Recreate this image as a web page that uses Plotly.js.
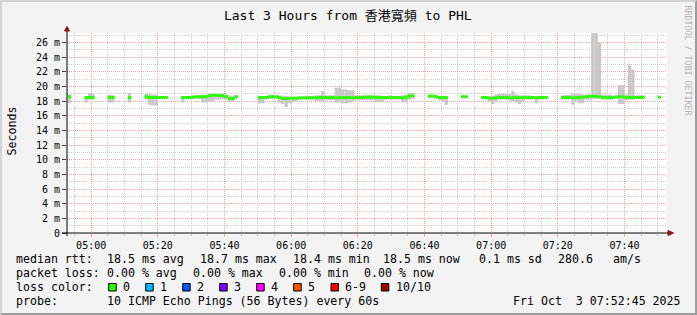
<!DOCTYPE html>
<html><head><meta charset="utf-8">
<script src="https://cdn.plot.ly/plotly-3.0.1.min.js"></script>
<style>
body{margin:0;background:#f3f3f3}
#wrap{position:relative;width:697px;height:315px;overflow:hidden}
#chart{width:697px;height:315px}
#frame{position:absolute;left:0;top:0;width:697px;height:315px;box-sizing:border-box;border-top:2px solid #d4d4d4;border-left:2px solid #d4d4d4;border-right:2px solid #9c9c9c;border-bottom:2px solid #9c9c9c;pointer-events:none}
</style></head>
<body><div id="wrap"><div id="chart"></div><div id="frame"></div></div>
<script>
// one sample per minute, first sample 2025-10-03 04:53 (null = no data)
const firstSample = '2025-10-03 04:53:00';
const median = [
 18.6, null,null,null,null,
 18.5,18.5,18.5, null,null,null,null,
 18.5,18.5, null,null,null,null,
 18.5, null,null,null,null,
 18.6,18.5,18.5,18.5,18.5,18.5,18.5, null,null,null,null,
 18.5,18.5,18.5,18.55,18.6,18.6,18.6,18.6,18.75,18.8,18.8,18.75,18.75,18.6,18.35,18.35,18.6,
 null,null,null,null,null,null,
 18.5,18.5,18.5,18.6,18.6,18.6,18.5,18.35,18.35,18.4,
 18.4,18.4,18.45,18.45,18.45,18.45,18.45,18.45,18.5,18.5,
 18.5,18.5,18.5,18.45,18.5,18.5,18.5,18.5,18.45,18.5,
 18.5,18.5,18.55,18.55,18.55,18.5,18.5,18.5,18.5,18.55,
 18.5,18.5,18.5,18.45,18.55,18.7,18.7,
 null,null,null,null,
 18.7,18.7,18.6,18.5,18.5,18.5,
 null,null,null,null,
 18.6,18.6,
 null,null,null,null,
 18.5,18.5,18.4,18.4,18.45,18.5,18.5,18.5,18.45,18.45,18.5,18.5,18.5,18.5,18.5,18.5,18.45,18.5,18.5,18.5,
 null,null,null,null,
 18.5,18.5,18.5,18.45,18.5,18.5,18.55,18.6,18.65,18.65,18.65,18.6,18.5,18.5,18.5,18.5,18.55,18.6,18.6,18.5,18.5,18.5,18.5,18.5,18.5,
 null,null,null,null,
 18.55
];
const pingMin = [
 17.7, null,null,null,null,
 17.8,18.2,18.2, null,null,null,null,
 17.8,17.8, null,null,null,null,
 17.8, null,null,null,null,
 18.2,17.5,17.4,17.4,18.3,18.3,18.3, null,null,null,null,
 17.8,18.3,18.3,18.3,18.3,18.3,17.8,17.8,17.9,17.9,18.2,18.2,18.3,18.2,18.0,18.0,18.3,
 null,null,null,null,null,null,
 17.7,17.7,18.2,18.3,18.3,18.3,17.8,17.6,17.2,17.7,
 17.8,18.0,18.2,18.2,18.2,18.2,18.2,18.0,18.0,18.0,
 18.1,18.1,18.1,17.8,17.8,17.7,17.7,17.8,18.0,18.1,
 18.1,18.1,18.1,18.1,18.1,17.9,17.9,17.9,18.2,18.2,
 18.2,18.2,18.2,17.8,17.8,18.2,18.3,
 null,null,null,null,
 18.4,18.4,18.3,18.1,17.9,17.5,
 null,null,null,null,
 18.4,18.4,
 null,null,null,null,
 18.3,18.2,17.9,17.6,17.9,18.2,18.2,18.2,18.1,18.0,17.8,17.6,18.0,18.2,18.2,18.2,17.7,18.2,18.2,18.3,
 null,null,null,null,
 18.2,18.2,18.2,17.5,18.0,17.7,17.7,18.2,18.2,18.3,18.3,18.3,18.2,18.2,18.2,18.2,18.3,17.6,17.6,18.1,18.2,18.2,18.3,18.3,18.3,
 null,null,null,null,
 18.4
];
const pingMax = [
 18.9, null,null,null,null,
 18.6,19.1,19.0, null,null,null,null,
 18.85,18.8, null,null,null,null,
 19.1, null,null,null,null,
 19.0,19.0,18.9,18.9,18.7,18.7,18.7, null,null,null,null,
 18.6,18.7,18.7,18.7,18.8,18.8,18.9,18.9,19.0,19.0,19.0,19.0,19.0,18.9,18.8,18.7,18.8,
 null,null,null,null,null,null,
 18.7,18.7,18.7,18.8,18.8,18.8,18.8,18.7,18.7,18.6,
 18.6,18.6,18.6,18.6,18.7,18.7,18.7,18.8,18.8,19.4,
 18.8,18.8,18.8,19.85,19.85,19.6,19.6,19.5,19.5,18.8,
 18.8,18.8,18.8,18.8,18.8,18.8,18.8,18.7,18.7,18.7,
 18.7,18.7,18.7,18.8,18.9,19.1,19.1,
 null,null,null,null,
 18.8,18.8,18.8,18.7,18.7,18.7,
 null,null,null,null,
 18.7,18.7,
 null,null,null,null,
 18.6,18.7,18.7,18.7,18.9,19.0,19.0,19.0,19.0,19.4,18.9,18.8,18.8,18.8,18.8,18.7,18.7,18.7,18.7,18.7,
 null,null,null,null,
 18.8,18.85,18.85,19.0,19.0,19.0,18.9,18.9,18.9,27.3,27.3,26.0,18.9,18.9,18.9,18.8,18.8,20.2,20.2,18.9,23.0,22.3,18.8,18.8,18.8,
 null,null,null,null,
 18.7
];
const yTickVals = [0,2,4,6,8,10,12,14,16,18,20,22,24,26];
const yTickText = ['0','2 m','4 m','6 m','8 m','10 m','12 m','14 m','16 m','18 m','20 m','22 m','24 m','26 m'];
const lossColors = ['#26ff00','#00b8ff','#0059ff','#7e00ff','#ff00ff','#ff5500','#ff0000','#a10000'];
const lossLabels = ['0','1','2','3','4','5','6-9','10/10'];
const legendRows = [
 ['median rtt:','18.5 ms avg','18.7 ms max','18.4 ms min','18.5 ms now','0.1 ms sd','280.6','am/s'],
 ['packet loss:','0.00 % avg','0.00 % max','0.00 % min','0.00 % now'],
 ['probe:','10 ICMP Echo Pings (56 Bytes) every 60s','Fri Oct\u00a0 3 07:52:45 2025']
];

const MONO = 'DejaVu Sans Mono, Noto Sans CJK TC, monospace';
const L=67, T=33, W=600, H=200;
const px = p => (p-L)/W, py = p => (T+H-p)/H;

const start = new Date(firstSample.replace(' ','T')+'Z').getTime();
const xs = median.map((_,i)=> start + i*60000);

const smoke = {type:'bar', x:xs, base:pingMin, y:pingMax.map((h,i)=> h==null?null:h-pingMin[i]),
  width:60000, offset:0, marker:{color:'#c8c8c8', line:{width:0}}, hoverinfo:'skip'};
const med = {type:'bar', x:xs, base:median.map(m=> m==null?null:m-0.2), y:median.map(m=> m==null?null:0.4),
  width:60000, offset:0, marker:{color:lossColors[0], line:{width:0}}, hoverinfo:'skip'};

const ann = [];
const shapes = [];
const txt = (x,y,t,o={}) => ann.push(Object.assign({xref:'paper',yref:'paper',x:px(x),y:py(y),text:t,showarrow:false,
  xanchor:'left',yanchor:'middle',borderpad:0,borderwidth:0,font:{family:MONO,size:11.6,color:'#000'}},o));

const rowX = [[16,106.5,199.8,292.5,383.3,478.5,557.5,613],[16,106.5,192.5,278.5,364.2],[16,106.5,512.5]];
const rowY = [259.3,273.3,301];
legendRows.forEach((r,ri)=> r.forEach((s,si)=> txt(rowX[ri][si], rowY[ri], s)));
txt(16,287.3,'loss color:');
const boxX = [108.7,145.7,182.7,219.7,256.7,293.7,331,381.3];
const labX = [123.3,160.3,197.3,234.3,271.3,308.3,344.5,396];
lossLabels.forEach((s,i)=>{
  shapes.push({type:'rect',xref:'paper',yref:'paper',x0:px(boxX[i]),x1:px(boxX[i]+7.5),y0:py(291),y1:py(283.5),
    fillcolor:lossColors[i],line:{color:'#000',width:1},layer:'above'});
  txt(labX[i],287.3,s);
});
// y axis title and watermark
ann.push({xref:'paper',yref:'paper',x:px(11),y:py(131.5),text:'Seconds',textangle:-90,showarrow:false,
  xanchor:'center',yanchor:'middle',font:{family:MONO,size:11.6,color:'#000'}});
ann.push({xref:'paper',yref:'paper',x:px(687.5),y:py(60),text:'RRDTOOL / TOBI OETIKER',textangle:90,showarrow:false,
  xanchor:'center',yanchor:'middle',font:{family:MONO,size:8.3,color:'#b4b4b4'}});

// axes with arrows
shapes.push({type:'line',xref:'paper',yref:'paper',x0:px(62),x1:px(668),y0:py(233),y1:py(233),line:{color:'#000',width:1},layer:'above'});
shapes.push({type:'line',xref:'paper',yref:'paper',x0:px(67),x1:px(67),y0:py(236),y1:py(30),line:{color:'#000',width:1},layer:'above'});
shapes.push({type:'path',xref:'paper',yref:'paper',path:`M ${px(668)} ${py(230.5)} L ${px(673.5)} ${py(233)} L ${px(668)} ${py(235.5)} Z`,
  fillcolor:'#8b1010',line:{color:'#8b1010',width:1},layer:'above'});
shapes.push({type:'path',xref:'paper',yref:'paper',path:`M ${px(64.5)} ${py(31)} L ${px(67)} ${py(26.5)} L ${px(69.5)} ${py(31)} Z`,
  fillcolor:'#8b1010',line:{color:'#8b1010',width:1},layer:'above'});

const layout = {
  width:697, height:315, margin:{l:L, r:697-L-W, t:T, b:315-T-H},
  paper_bgcolor:'#f3f3f3', plot_bgcolor:'#ffffff', showlegend:false, barmode:'overlay',
  title:{text:'Last 3 Hours from 香港寬頻 to PHL', x:0.499, xref:'container', xanchor:'center',
    y:1-15/315, yref:'container', yanchor:'middle', font:{family:MONO,size:13,color:'#000'}},
  xaxis:{type:'date', range:['2025-10-03 04:52:45','2025-10-03 07:52:45'], tick0:'2025-10-03 05:00:00', dtick:1200000,
    tickformat:'%H:%M', showgrid:true, gridcolor:'#eea4a4', griddash:'1px,1px', gridwidth:1,
    ticks:'outside', ticklen:3, tickcolor:'#eea4a4', zeroline:false, showline:false,
    tickfont:{family:MONO,size:10,color:'#000'},
    minor:{dtick:300000, tick0:'2025-10-03 05:00:00', showgrid:true, gridcolor:'#cfcfcf', griddash:'1px,1px', ticks:'outside', ticklen:2, tickcolor:'#cfcfcf'}},
  yaxis:{range:[0,27.3], tickvals:yTickVals, ticktext:yTickText, showgrid:true, gridcolor:'#eea4a4', griddash:'1px,1px',
    ticks:'outside', ticklen:4, tickcolor:'#444', zeroline:false, showline:false,
    tickfont:{family:MONO,size:10,color:'#000'},
    minor:{dtick:1, showgrid:true, gridcolor:'#cfcfcf', griddash:'1px,1px'}},
  annotations:ann, shapes:shapes
};
Plotly.newPlot('chart',[smoke,med],layout,{staticPlot:true,displayModeBar:false});
</script></body></html>
